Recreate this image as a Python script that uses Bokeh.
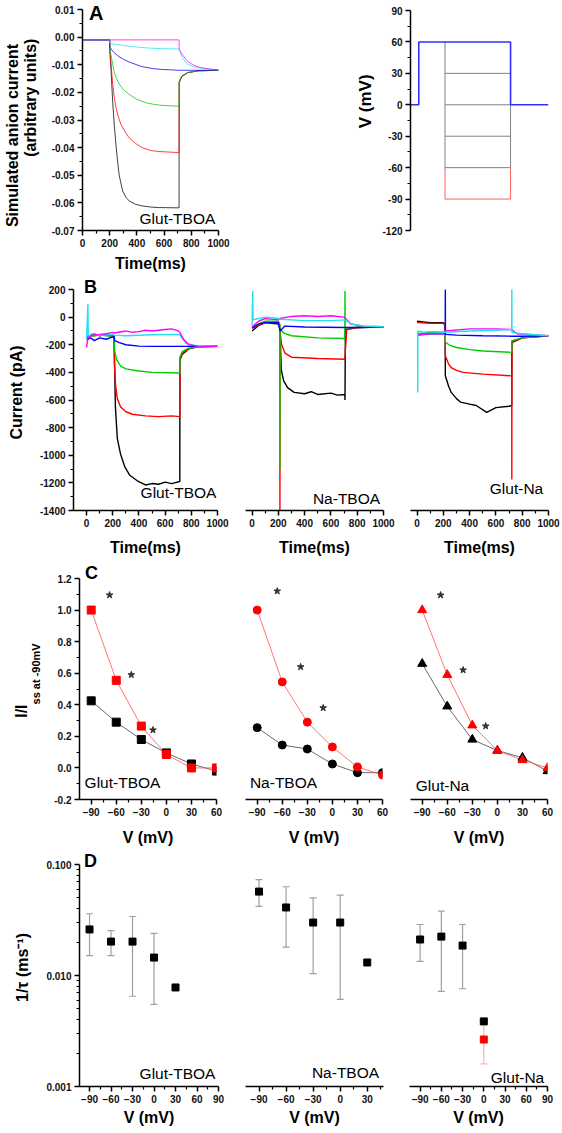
import math
from bokeh.plotting import figure
from bokeh.layouts import row, column
from bokeh.models import Range1d, FixedTicker, NumeralTickFormatter, Label, LinearAxis
from bokeh.embed import file_html
from bokeh.resources import INLINE

FONT = "Liberation Sans"
NB = "\u00a0"

# ---------------- DATA ----------------
# Panel A (left): simulated anion current, (time ms, arbitrary units)
A_black = [(0, -0.001), (200, -0.001), (201, -0.005), (210, -0.012), (222, -0.0235), (234, -0.032), (246, -0.039),
           (258, -0.045), (270, -0.05), (295, -0.0557), (320, -0.058), (343, -0.0593), (390, -0.0605),
           (439, -0.0611), (500, -0.0615), (560, -0.0617), (710, -0.0618), (711, -0.0165), (730, -0.0143),
           (773, -0.0129), (850, -0.0122), (1000, -0.012)]
A_red = [(0, -0.001), (200, -0.001), (201, -0.0045), (212, -0.011), (222, -0.017), (234, -0.022), (246, -0.0255),
         (264, -0.029), (282, -0.0315), (310, -0.034), (342, -0.0364), (390, -0.0385), (438, -0.04),
         (500, -0.041), (557, -0.0414), (710, -0.0418), (711, -0.0162), (730, -0.0142), (773, -0.0128),
         (850, -0.0122), (1000, -0.012)]
A_green = [(0, -0.001), (200, -0.001), (201, -0.0043), (215, -0.008), (234, -0.0128), (250, -0.015), (270, -0.017),
           (300, -0.019), (342, -0.0207), (400, -0.0225), (462, -0.0237), (520, -0.0243), (581, -0.0247),
           (710, -0.025), (711, -0.0159), (730, -0.014), (773, -0.0128), (850, -0.0122), (1000, -0.012)]
A_blue = [(0, -0.001), (200, -0.001), (201, -0.0037), (230, -0.0055), (258, -0.0067), (300, -0.008), (342, -0.009),
          (438, -0.0107), (520, -0.0114), (581, -0.0117), (710, -0.012), (1000, -0.012)]
A_cyan = [(0, -0.001), (200, -0.001), (201, -0.0023), (300, -0.003), (400, -0.0036), (500, -0.004), (600, -0.0042),
          (710, -0.0043), (737, -0.0078), (773, -0.0098), (820, -0.0108), (900, -0.0115), (1000, -0.0119)]
A_magenta = [(0, -0.001), (710, -0.001), (711, -0.0045), (737, -0.0065), (773, -0.0088), (820, -0.0102),
             (868, -0.011), (930, -0.0115), (1000, -0.0119)]

# Panel A (right): voltage protocol
P_hold_V = 0
P_pre_V = 60
P_test_V = [60, 30, 0, -30, -60, -90]
P_times = [0, 60, 250, 725, 1000]   # start, prepulse on, test on, test off, end

# Panel B: recorded currents (time ms, pA)
B1_black = [(0, -150), (50, -120), (100, -135), (150, -125), (210, -140), (213, -300), (220, -650), (235, -880),
            (259, -990), (290, -1080), (330, -1145), (387, -1185), (450, -1215), (500, -1205), (550, -1210),
            (600, -1195), (650, -1205), (712, -1190), (713, -310), (730, -270), (780, -230), (850, -215), (1000, -212)]
B1_red = [(0, -140), (100, -130), (210, -135), (213, -350), (222, -500), (235, -590), (260, -650), (300, -685),
          (350, -703), (450, -715), (550, -720), (650, -715), (712, -720), (713, -300), (730, -262), (780, -228),
          (850, -215), (1000, -212)]
B1_green = [(0, -140), (100, -130), (210, -140), (215, -250), (230, -310), (260, -355), (300, -375), (400, -390),
            (500, -400), (712, -405), (713, -290), (730, -250), (780, -225), (850, -215), (1000, -212)]
B1_blue = [(0, -165), (30, -150), (60, -170), (100, -150), (150, -160), (210, -140), (215, -170), (250, -185),
           (300, -200), (400, -210), (500, -212), (712, -212), (1000, -212)]
B1_cyan = [(0, -150), (10, 95), (13, -140), (50, -120), (100, -130), (200, -125), (210, -130), (300, -135),
           (500, -128), (700, -125), (712, -130), (760, -190), (850, -210), (1000, -212)]
B1_magenta = [(0, -220), (10, -150), (40, -130), (100, -125), (150, -120), (200, -110), (210, -115), (300, -100),
              (350, -110), (400, -105), (450, -95), (500, -100), (600, -90), (650, -85), (700, -100), (712, -110),
              (740, -160), (780, -200), (850, -210), (1000, -212)]

B2_black = [(0, -100), (50, -60), (100, -40), (200, -50), (212, -80), (222, -380), (240, -460), (270, -510),
            (320, -545), (400, -555), (450, -540), (500, -560), (600, -550), (650, -565), (706, -560), (707, -600),
            (710, -90), (800, -75), (1000, -72)]
B2_red = [(0, -80), (100, -40), (200, -40), (211, -60), (212, -1400), (213, -110), (225, -200), (250, -260),
          (300, -290), (500, -300), (706, -305), (720, -90), (800, -75), (1000, -72)]
B2_green = [(0, -70), (100, -30), (200, -30), (211, -50), (212, -1100), (213, -90), (250, -120), (300, -135),
            (500, -150), (706, -155), (707, 190), (708, -80), (750, -75), (1000, -72)]
B2_blue = [(0, -80), (50, -50), (100, -40), (200, -40), (212, -100), (250, -65), (400, -72), (706, -75),
           (800, -75), (1000, -72)]
B2_cyan = [(0, -60), (5, 190), (7, -20), (50, -10), (100, 0), (150, -5), (200, -10), (212, -15), (400, -25),
           (600, -25), (706, -20), (760, -50), (850, -65), (1000, -70)]
B2_magenta = [(0, -70), (50, -30), (100, -10), (200, -20), (212, -10), (300, 5), (400, 10), (500, 5), (600, 10),
              (700, 0), (706, -5), (750, -50), (850, -65), (1000, -70)]

B3_black = [(0, -30), (100, -40), (200, -40), (214, -60), (215, -425), (240, -500), (260, -545), (300, -590),
            (330, -615), (400, -630), (450, -640), (530, -690), (600, -655), (700, -645), (720, -640), (721, -185),
            (800, -150), (1000, -135)]
B3_red = [(0, -40), (100, -45), (200, -45), (214, -60), (215, -280), (240, -340), (260, -365), (300, -385),
          (350, -400), (500, -413), (720, -425), (721, -1176), (722, -180), (800, -150), (1000, -135)]
B3_green = [(0, -120), (100, -110), (200, -110), (214, -110), (215, -180), (250, -205), (300, -220), (400, -235),
            (500, -245), (720, -255), (721, -170), (800, -150), (1000, -135)]
B3_blue = [(0, -130), (100, -120), (200, -120), (214, -120), (215, 200), (216, -125), (300, -130), (500, -135),
           (720, -138), (800, -138), (1000, -135)]
B3_cyan = [(0, -110), (4, -110), (5, -545), (6, -100), (50, -110), (100, -105), (200, -110), (215, -110),
           (400, -100), (600, -95), (720, -90), (721, 200), (722, -110), (800, -120), (1000, -135)]
B3_magenta = [(0, -130), (100, -120), (200, -120), (215, -100), (400, -85), (600, -85), (720, -90), (760, -120),
              (1000, -135)]

# Panel C: normalised current vs voltage
C_V = [-90, -60, -30, 0, 30, 60]
C1_red = [1.0, 0.555, 0.265, 0.085, 0.0, 0.0]
C1_black = [0.425, 0.29, 0.18, 0.095, 0.025, -0.02]
C1_star_V = [-68, -42, -16]
C1_star_y = [1.095, 0.59, 0.24]
C2_red = [1.0, 0.545, 0.29, 0.133, 0.006, -0.045]
C2_black = [0.255, 0.145, 0.12, 0.025, -0.03, -0.03]
C2_star_V = [-66, -38, -11]
C2_star_y = [1.12, 0.64, 0.38]
C3_red = [1.0, 0.59, 0.27, 0.11, 0.05, 0.0]
C3_black = [0.66, 0.39, 0.18, 0.11, 0.065, -0.02]
C3_star_V = [-68, -41, -14]
C3_star_y = [1.095, 0.62, 0.265]

# Panel D: 1/tau vs voltage
D1_V = [-90, -60, -30, 0, 30]
D1_y = [0.026, 0.0202, 0.0202, 0.0145, 0.0078]
D1_errV = [-90, -60, -30, 0]
D1_hi = [0.036, 0.0254, 0.034, 0.024]
D1_lo = [0.0151, 0.0151, 0.0065, 0.0055]
D2_V = [-90, -60, -30, 0, 30]
D2_y = [0.057, 0.041, 0.030, 0.030, 0.0131]
D2_errV = [-90, -60, -30, 0]
D2_hi = [0.073, 0.063, 0.050, 0.053]
D2_lo = [0.042, 0.018, 0.0104, 0.0061]
D3_V = [-90, -60, -30, 0]
D3_y = [0.0211, 0.0224, 0.0186, 0.00386]
D3_errV = [-90, -60, -30]
D3_hi = [0.0288, 0.038, 0.0288]
D3_lo = [0.0134, 0.0072, 0.0076]
D3_red_V = [0]
D3_red_y = [0.00265]
D3_red_hi = [0.0038]
D3_red_lo = [0.0016]

COL = {"black": "#000000", "red": "#ff0000", "green": "#00cc00", "blue": "#0000ff",
       "cyan": "#22e0f0", "magenta": "#ff00ff"}

FR = {}


def mk(w, h, bl, bt, br, bb, xr, yr, log=False, showx=True, showy=True, ext=0):
    fh = h - bt - bb
    dh = fh - ext
    if log:
        top = 10 ** (math.log10(yr[1]) + ext / dh * (math.log10(yr[1]) - math.log10(yr[0])))
    else:
        top = yr[1] + ext / dh * (yr[1] - yr[0])
    p = figure(width=w, height=h, x_range=Range1d(*xr), y_range=Range1d(yr[0], top),
               y_axis_type="log" if log else "linear",
               x_axis_location="below" if showx else None,
               y_axis_location="left" if showy else None,
               output_backend="svg", toolbar_location=None, title=None,
               min_border_left=bl, min_border_right=br, min_border_top=bt, min_border_bottom=bb)
    p.grid.visible = False
    p.outline_line_color = None
    p.background_fill_color = "white"
    p.border_fill_color = "white"
    for ax in p.axis:
        ax.axis_line_width = 1.5
        ax.axis_line_color = "black"
        ax.major_tick_line_width = 1.5
        ax.minor_tick_line_width = 1.2
        ax.major_tick_out = 5
        ax.major_tick_in = 0
        ax.minor_tick_out = 3
        ax.minor_tick_in = 0
        ax.major_label_text_font = FONT
        ax.major_label_text_font_style = "bold"
        ax.major_label_text_font_size = "10px"
        ax.major_label_text_color = "#111111"
        ax.major_label_standoff = 3
        ax.axis_label_text_font = FONT
        ax.axis_label_text_font_style = "bold"
        ax.axis_label_text_font_size = "16px"
        ax.axis_label_text_color = "black"
    if showy and ext:
        p.yaxis.bounds = (yr[0], yr[1])
    FR[p.id] = (xr[0], xr[1], w - bl - br, yr[0], top, fh, log, ext)
    return p


def txt(p, sx, sy, text, size, bold=False, align="center", color="black"):
    # sx, sy: pixel offsets from the left / top of the data area
    x0, x1, fw, y0, y1, fh, log, ext = FR[p.id]
    sy = sy + ext
    x = x0 + sx / fw * (x1 - x0)
    if log:
        y = 10 ** (math.log10(y1) - sy / fh * (math.log10(y1) - math.log10(y0)))
    else:
        y = y1 - sy / fh * (y1 - y0)
    p.add_layout(Label(x=x, y=y, text=text, text_align=align, text_baseline="middle",
                       text_font=FONT, text_font_size=f"{size}px",
                       text_font_style="bold" if bold else "normal", text_color=color))


def xlab(p, text, standoff):
    p.xaxis.axis_label = text
    p.xaxis.axis_label_standoff = standoff


def ylab(p, text, standoff, size=16):
    p.yaxis.axis_label = text
    p.yaxis.axis_label_standoff = standoff
    p.yaxis.axis_label_text_font_size = f"{size}px"


def extra_ylab(p, text, standoff, size=16):
    ax = LinearAxis(ticker=FixedTicker(ticks=[]), axis_label=text, axis_line_color=None,
                    major_tick_line_color=None, minor_tick_line_color=None,
                    major_tick_out=0, minor_tick_out=0, major_label_standoff=0,
                    axis_label_standoff=standoff, axis_label_text_font=FONT,
                    axis_label_text_font_style="bold", axis_label_text_font_size=f"{size}px",
                    axis_label_text_color="black")
    p.add_layout(ax, "left")


def trace(p, pts, color, width=1.3, alpha=1.0):
    p.line([a for a, b in pts], [b for a, b in pts], line_color=COL[color], line_width=width, line_alpha=alpha)


def xticks(p, major, minor):
    p.xaxis.ticker = FixedTicker(ticks=major, minor_ticks=minor)


def yticks(p, major, minor, fmt):
    p.yaxis.ticker = FixedTicker(ticks=major, minor_ticks=minor)
    p.yaxis.formatter = NumeralTickFormatter(format=fmt)


# ---------------- ROW A (y 0..274) ----------------
a1 = mk(330, 274, 79, 0, 112, 44, (0, 1000), (-0.07, 0.01), ext=9)
xticks(a1, [0, 200, 400, 600, 800, 1000], [100, 300, 500, 700, 900])
yticks(a1, [0.01, 0.0, -0.01, -0.02, -0.03, -0.04, -0.05, -0.06, -0.07],
       [0.005, -0.005, -0.015, -0.025, -0.035, -0.045, -0.055, -0.065], "0.00")
for name, pts in [("black", A_black), ("red", A_red), ("green", A_green), ("blue", A_blue),
                  ("cyan", A_cyan), ("magenta", A_magenta)]:
    trace(a1, pts, name, width=1.0, alpha=0.75)
txt(a1, 14, 3, "A", 20, bold=True)
ylab(a1, NB * 8 + "(arbitrary units)", 10, size=16)
extra_ylab(a1, "Simulated anion current" + NB * 9, -2, size=16)
xlab(a1, "Time(ms)", 5)
txt(a1, 97, 209, "Glut-TBOA", 15.5)

a2 = mk(230, 274, 80, 0, 12, 44, (0, 1000), (-120, 90), showx=False, ext=10)
yticks(a2, [90, 60, 30, 0, -30, -60, -90, -120], [75, 45, 15, -15, -45, -75, -105], "0")
t0, t_pre, t_on, t_off, t_end = P_times
for v in P_test_V[1:5]:
    a2.line([t_on, t_off], [v, v], line_color="#808080", line_width=1.0)
a2.line([t_on, t_on], [P_test_V[0], P_test_V[4]], line_color="#808080", line_width=1.0)
a2.line([t_off, t_off], [P_test_V[0], P_test_V[4]], line_color="#808080", line_width=1.0)
a2.line([t_on, t_on, t_off, t_off], [P_test_V[4], P_test_V[5], P_test_V[5], P_test_V[4]],
        line_color="#ff6060", line_width=1.0)
a2.line([t0, t_pre, t_pre, t_off, t_off, t_end], [P_hold_V, P_hold_V, P_pre_V, P_pre_V, P_hold_V, P_hold_V],
        line_color="#3030ff", line_width=1.6)
ylab(a2, NB * 6 + "V (mV)", 4, size=17)

# ---------------- ROW B (y 274..560) ----------------
b1 = mk(237, 286, 73, 0, 20, 50, (-100, 1000), (-1400, 200), ext=15)
b2 = mk(165, 286, 8, 0, 19, 50, (-50, 1000), (-1400, 200), showy=False, ext=15)
b3 = mk(158, 286, 8, 0, 12, 50, (-50, 1000), (-1400, 200), showy=False, ext=15)
yticks(b1, list(range(200, -1401, -200)), list(range(100, -1400, -200)), "0")
B_sets = [
    (b1, [("black", B1_black), ("red", B1_red), ("green", B1_green), ("blue", B1_blue),
          ("cyan", B1_cyan), ("magenta", B1_magenta)]),
    (b2, [("black", B2_black), ("red", B2_red), ("green", B2_green), ("blue", B2_blue),
          ("magenta", B2_magenta), ("cyan", B2_cyan)]),
    (b3, [("black", B3_black), ("red", B3_red), ("green", B3_green), ("blue", B3_blue),
          ("magenta", B3_magenta), ("cyan", B3_cyan)]),
]
for p, tr in B_sets:
    xticks(p, [0, 200, 400, 600, 800, 1000], [100, 300, 500, 700, 900])
    xlab(p, "Time(ms)", 9)
    for name, pts in tr:
        trace(p, pts, name, width=1.4)
txt(b1, 17, -3, "B", 18, bold=True)
ylab(b1, "Current (pA)", 12)
txt(b1, 105, 203, "Glut-TBOA", 15.5)
txt(b2, 101, 209, "Na-TBOA", 15.5)
txt(b3, 106, 199, "Glut-Na", 15.5)

# ---------------- ROW C (y 560..848) ----------------
c1 = mk(238, 288, 79, 0, 22, 49, (-104, 60), (-0.2, 1.2), ext=18)
c2 = mk(165, 288, 7, 0, 21, 49, (-104, 60), (-0.2, 1.2), showy=False, ext=18)
c3 = mk(157, 288, 7, 0, 13, 49, (-104, 60), (-0.2, 1.2), showy=False, ext=18)
yticks(c1, [1.2, 1.0, 0.8, 0.6, 0.4, 0.2, 0.0, -0.2], [1.1, 0.9, 0.7, 0.5, 0.3, 0.1, -0.1], "0.0")
C_sets = [(c1, C1_red, C1_black, C1_star_V, C1_star_y, "square", 8),
          (c2, C2_red, C2_black, C2_star_V, C2_star_y, "circle", 8),
          (c3, C3_red, C3_black, C3_star_V, C3_star_y, "triangle", 9)]
for p, red, blk, sv, sy, mkr, sz in C_sets:
    xticks(p, [-90, -60, -30, 0, 30, 60], [-75, -45, -15, 15, 45])
    xlab(p, "V (mV)", 10)
    p.line(C_V, blk, line_color="#444444", line_width=0.8)
    p.line(C_V, red, line_color="#ff5050", line_width=0.8)
    p.scatter(C_V, blk, marker=mkr, size=sz, fill_color="black", line_color="black")
    p.scatter(C_V, red, marker=mkr, size=sz, fill_color="red", line_color="red")
    p.scatter(sv, sy, marker="star", size=7, fill_color="#333333", line_color="#333333")
txt(c1, 12, -6, "C", 18, bold=True)
ylab(c1, NB * 4 + "ss at -90mV", 9, size=11)
extra_ylab(c1, "I/I" + NB * 14, -2, size=16)
txt(c1, 43, 204, "Glut-TBOA", 15.5)
txt(c2, 38, 204, "Na-TBOA", 15.5)
txt(c3, 32, 207, "Glut-Na", 15.5)

# ---------------- ROW D (y 848..1130) ----------------
d1 = mk(245, 282, 79, 0, 27, 44, (-104, 90), (0.001, 0.1), log=True, ext=16)
d2 = mk(150, 282, 0, 0, 12, 44, (-105, 48), (0.001, 0.1), log=True, showy=False, ext=16)
d3 = mk(165, 282, 14, 0, 13, 44, (-105, 90), (0.001, 0.1), log=True, showy=False, ext=16)
yticks(d1, [0.001, 0.01, 0.1], [k * 0.001 for k in range(2, 10)] + [k * 0.01 for k in range(2, 10)], "0.000")
xticks(d1, [-90, -60, -30, 0, 30, 60, 90], [-75, -45, -15, 15, 45, 75])
xticks(d2, [-90, -60, -30, 0, 30], [-75, -45, -15, 15, 45])
xticks(d3, [-90, -60, -30, 0, 30, 60, 90], [-75, -45, -15, 15, 45, 75])
for p in (d1, d2, d3):
    xlab(p, "V (mV)", 3)


def errbars(p, xs, lo, hi, color):
    p.segment(xs, lo, xs, hi, line_color=color, line_width=1.2)
    p.scatter(xs, lo, marker="dash", size=7, line_color=color, line_width=1.2)
    p.scatter(xs, hi, marker="dash", size=7, line_color=color, line_width=1.2)


errbars(d1, D1_errV, D1_lo, D1_hi, "#a0a0a0")
d1.scatter(D1_V, D1_y, marker="square", size=7, fill_color="black", line_color="black")
errbars(d2, D2_errV, D2_lo, D2_hi, "#a0a0a0")
d2.scatter(D2_V, D2_y, marker="square", size=7, fill_color="black", line_color="black")
errbars(d3, D3_errV, D3_lo, D3_hi, "#a0a0a0")
errbars(d3, D3_red_V, D3_red_lo, D3_red_hi, "#ffb0b0")
d3.scatter(D3_red_V, D3_red_y, marker="square", size=7, fill_color="red", line_color="red")
d3.scatter(D3_V, D3_y, marker="square", size=7, fill_color="black", line_color="black")
txt(d1, 11, -4, "D", 18, bold=True)
ylab(d1, "1/\u03c4 (ms\u207b\u00b9)", 12)
txt(d1, 98, 209, "Glut-TBOA", 15.5)
txt(d2, 100, 208, "Na-TBOA", 15.5)
txt(d3, 108, 213, "Glut-Na", 15.5)

layout = column(row(a1, a2), row(b1, b2, b3), row(c1, c2, c3), row(d1, d2, d3))
open("out.html", "w").write(file_html(layout, INLINE))
